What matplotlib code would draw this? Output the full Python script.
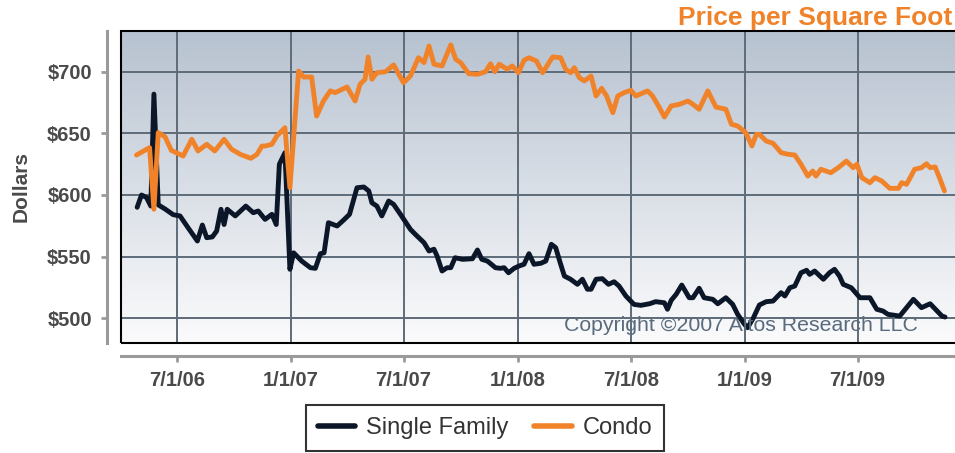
import numpy as np
import pandas as pd
import matplotlib
matplotlib.use('Agg')
import matplotlib.pyplot as plt
from matplotlib.colors import LinearSegmentedColormap
from matplotlib.patches import Rectangle

plt.rcParams['font.family'] = ['Liberation Sans', 'DejaVu Sans']

# Single Family, price per sq ft
sf_dates = ['2006-04-28', '2006-05-05', '2006-05-13', '2006-05-20', '2006-05-25', '2006-06-01',
            '2006-06-12', '2006-06-25', '2006-07-06', '2006-07-19', '2006-08-03', '2006-08-11',
            '2006-08-18', '2006-08-27', '2006-09-03', '2006-09-10', '2006-09-15', '2006-09-20',
            '2006-10-03', '2006-10-20', '2006-11-01', '2006-11-09', '2006-11-20', '2006-12-01',
            '2006-12-08', '2006-12-13', '2006-12-22', '2006-12-30', '2007-01-05', '2007-01-18',
            '2007-02-01', '2007-02-09', '2007-02-17', '2007-02-23', '2007-03-02', '2007-03-16',
            '2007-03-26', '2007-04-05', '2007-04-17', '2007-04-28', '2007-05-06', '2007-05-11',
            '2007-05-19', '2007-05-27', '2007-06-07', '2007-06-15', '2007-06-26', '2007-07-12',
            '2007-07-20', '2007-08-03', '2007-08-11', '2007-08-19', '2007-08-24', '2007-09-01',
            '2007-09-09', '2007-09-15', '2007-09-22', '2007-10-04', '2007-10-20', '2007-10-28',
            '2007-11-04', '2007-11-13', '2007-11-26', '2007-12-04', '2007-12-10', '2007-12-17',
            '2007-12-26', '2008-01-03', '2008-01-11', '2008-01-19', '2008-01-27', '2008-02-07',
            '2008-02-15', '2008-02-24', '2008-03-02', '2008-03-10', '2008-03-16', '2008-03-26',
            '2008-04-06', '2008-04-14', '2008-04-22', '2008-04-28', '2008-05-06', '2008-05-16',
            '2008-05-26', '2008-06-04', '2008-06-12', '2008-06-23', '2008-07-06', '2008-07-17',
            '2008-07-31', '2008-08-10', '2008-08-24', '2008-08-29', '2008-09-04', '2008-09-12',
            '2008-09-21', '2008-10-03', '2008-10-09', '2008-10-19', '2008-10-27', '2008-11-10',
            '2008-11-18', '2008-12-01', '2008-12-12', '2008-12-20', '2008-12-31', '2009-01-05',
            '2009-01-14', '2009-01-24', '2009-02-04', '2009-02-15', '2009-02-28', '2009-03-06',
            '2009-03-14', '2009-03-22', '2009-04-01', '2009-04-10', '2009-04-15', '2009-04-23',
            '2009-05-07', '2009-05-17', '2009-05-25', '2009-06-02', '2009-06-08', '2009-06-21',
            '2009-07-05', '2009-07-21', '2009-08-01', '2009-08-11', '2009-08-19', '2009-09-07',
            '2009-09-29', '2009-10-12', '2009-10-26', '2009-11-14', '2009-11-19']
sf_vals = [590, 600, 598, 591, 682, 592,
           588.6, 584, 583, 573.4, 562.6, 575.6,
           565.3, 565.9, 570.7, 588.4, 576, 588.4,
           583, 591, 585.6, 587, 580.2, 584.3,
           576, 625, 634.4, 539.6, 553, 546.3,
           540.9, 540.4, 552.3, 553, 577.5, 574.8,
           579.4, 584.3, 605.9, 606.5, 603.3, 593.7,
           591, 583, 595.1, 592.4, 584.3, 572.1,
           568, 561.2, 554.5, 555.9, 550.4, 538.2,
           540.9, 540.9, 549, 547.7, 548.2, 555.3,
           547.7, 546.3, 540.9, 540.4, 540.9, 536.8,
           540.4, 542.3, 543.7, 552.3, 543.7, 544.5,
           546.3, 559.9, 557.2, 543.7, 534.1, 531.5,
           527.4, 531.5, 523.4, 523.4, 531.5, 532,
           527.4, 529.5, 526, 517.9, 511.1, 510.3,
           511.6, 513.3, 512.4, 507.1, 514.4, 519.3,
           526.8, 516.5, 516.5, 524.2, 516.5, 515.2,
           511.6, 516.5, 511.1, 503, 494.9, 492.1,
           499.8, 510.6, 513.3, 513.8, 520.6, 517.9,
           524.6, 526, 536.8, 538.8, 535.5, 538.2,
           531.5, 536.8, 539.6, 534.1, 527.4, 524.6,
           516.5, 516.5, 507.1, 505.7, 503, 501.6,
           515.2, 508.4, 511.6, 501.6, 500.8]

# Condo, price per sq ft
condo_dates = ['2006-04-27', '2006-05-18', '2006-05-25', '2006-06-01', '2006-06-12', '2006-06-22',
               '2006-07-11', '2006-07-25', '2006-08-04', '2006-08-18', '2006-08-31', '2006-09-15',
               '2006-09-27', '2006-10-11', '2006-10-28', '2006-11-07', '2006-11-15', '2006-11-20',
               '2006-12-01', '2006-12-09', '2006-12-22', '2006-12-30', '2007-01-13', '2007-01-21',
               '2007-02-03', '2007-02-11', '2007-02-22', '2007-03-05', '2007-03-13', '2007-04-01',
               '2007-04-14', '2007-04-22', '2007-04-30', '2007-05-05', '2007-05-11', '2007-05-19',
               '2007-06-02', '2007-06-15', '2007-07-01', '2007-07-12', '2007-07-25', '2007-08-03',
               '2007-08-11', '2007-08-19', '2007-09-01', '2007-09-15', '2007-09-23', '2007-10-01',
               '2007-10-14', '2007-10-28', '2007-11-10', '2007-11-18', '2007-11-25', '2007-12-02',
               '2007-12-15', '2007-12-23', '2008-01-02', '2008-01-11', '2008-01-19', '2008-01-31',
               '2008-02-10', '2008-02-26', '2008-03-10', '2008-03-18', '2008-03-26', '2008-04-01',
               '2008-04-09', '2008-04-17', '2008-04-28', '2008-05-06', '2008-05-15', '2008-05-23',
               '2008-06-02', '2008-06-10', '2008-06-20', '2008-07-01', '2008-07-09', '2008-07-28',
               '2008-08-05', '2008-08-16', '2008-08-24', '2008-09-04', '2008-09-17', '2008-10-01',
               '2008-10-09', '2008-10-19', '2008-11-02', '2008-11-15', '2008-12-01', '2008-12-10',
               '2008-12-20', '2009-01-02', '2009-01-12', '2009-01-19', '2009-01-24', '2009-02-04',
               '2009-02-15', '2009-02-28', '2009-03-11', '2009-03-22', '2009-04-01', '2009-04-12',
               '2009-04-20', '2009-04-25', '2009-05-03', '2009-05-19', '2009-05-31', '2009-06-13',
               '2009-06-24', '2009-06-30', '2009-07-08', '2009-07-21', '2009-07-29', '2009-08-09',
               '2009-08-22', '2009-09-05', '2009-09-10', '2009-09-18', '2009-10-01', '2009-10-12',
               '2009-10-20', '2009-10-26', '2009-11-03', '2009-11-11', '2009-11-18']
condo_vals = [632.5, 638.5, 588.4, 650.7, 647.2, 636.3,
              631.7, 645.3, 635.8, 641.2, 635.8, 645.3,
              637.2, 633.1, 629.8, 633.1, 639.8, 639.8,
              641.2, 648, 654.7, 605.9, 700.8, 695.9,
              695.9, 664.2, 676.4, 684.6, 683.2, 687.8,
              676.4, 690, 694.1, 712.2, 694.1, 699.4,
              700.2, 705.7, 691.3, 696.7, 711.6, 707.6,
              721.1, 706.3, 704.9, 722, 710.3, 707.6,
              698.6, 698.1, 700.2, 706.7, 700.2, 706.3,
              702.2, 704.9, 699.4, 709.5, 711.6, 708.9,
              699.4, 712.2, 711.6, 702.2, 699.4, 703.5,
              695.4, 692.7, 696.7, 680.5, 686.7, 680.5,
              666.9, 680.5, 683.2, 685.1, 680.5, 684.6,
              680.5, 671, 663.4, 672.4, 673.7, 676.4,
              673.7, 669.7, 684.6, 671.5, 669.7, 657.5,
              656.1, 650.7, 639.8, 649.3, 649.3, 643.9,
              642, 634.4, 633.1, 632.5, 625, 615.4,
              619.5, 615.4, 620.9, 618.1, 622.2, 627.6,
              622.2, 625, 614.1, 610, 614.1, 611.4,
              605.4, 605.4, 610, 608.7, 620.9, 622.2,
              625.4, 622.2, 622.8, 612.8, 603.3]

tick_dates = ['2006-07-01', '2007-01-01', '2007-07-01', '2008-01-01',
              '2008-07-01', '2009-01-01', '2009-07-01']
tick_labels = ['7/1/06', '1/1/07', '7/1/07', '1/1/08', '7/1/08', '1/1/09', '7/1/09']
y_ticks = [500, 550, 600, 650, 700]

navy = '#0b1628'
orange = '#f0832a'
grid_col = '#5e6b79'
label_col = '#4a4a4a'

fig = plt.figure(figsize=(9.55, 4.53), dpi=100)
ax = fig.add_axes([121/955, 1-343/453, 834/955, 312/453])

# gradient background
grad = np.linspace(0, 1, 256).reshape(-1, 1)
cmap = LinearSegmentedColormap.from_list('bg', ['#fbfbfc', '#b7c2d0'])
ax.imshow(grad, cmap=cmap, aspect='auto', extent=[0, 1, 0, 1], origin='lower',
          transform=ax.transAxes, zorder=0)

ax.plot(pd.to_datetime(sf_dates), sf_vals, color=navy, lw=3.5, zorder=3,
        solid_joinstyle='round', solid_capstyle='round', label='Single Family')
ax.plot(pd.to_datetime(condo_dates), condo_vals, color=orange, lw=3.5, zorder=3,
        solid_joinstyle='round', solid_capstyle='round', label='Condo')

ax.set_xlim(pd.Timestamp('2006-04-02'), pd.Timestamp('2009-12-05'))
ax.set_ylim(479.7, 733.3)

ax.set_xticks(pd.to_datetime(tick_dates))
ax.set_xticklabels(tick_labels)
ax.set_yticks(y_ticks)
ax.set_yticklabels(['$%d' % v for v in y_ticks])

ax.grid(True, color=grid_col, lw=1.4, zorder=1)
for gl in ax.get_xgridlines() + ax.get_ygridlines():
    gl.set_zorder(1)

for s in ['top', 'right']:
    ax.spines[s].set_visible(False)
ax.spines['left'].set_position(('outward', 10))
ax.spines['bottom'].set_position(('outward', 9.5))
for s in ['left', 'bottom']:
    ax.spines[s].set_color('#9a9a9a')
    ax.spines[s].set_linewidth(2.2)
ax.tick_params(axis='both', colors='#9a9a9a', width=2, length=4)
ax.tick_params(axis='y', pad=7)
ax.tick_params(axis='x', pad=7)
for t in ax.get_xticklabels() + ax.get_yticklabels():
    t.set_color(label_col)
    t.set_fontweight('bold')
    t.set_fontsize(14.5)

ax.set_ylabel('Dollars', fontsize=15, fontweight='bold', color=label_col, labelpad=12)

# black frame around plot area
ax.add_patch(Rectangle((0, 0), 1.2, 1, transform=ax.transAxes, fill=False,
                       edgecolor='black', lw=1.5, zorder=5, clip_on=False))

ax.text(0.955, 0.04, 'Copyright \u00a92007 Altos Research LLC', transform=ax.transAxes,
        ha='right', va='baseline', fontsize=15.3, color='#5a6b7d', zorder=4)

fig.text(952/955, 1-18/453, 'Price per Square Foot', ha='right', va='center',
         fontsize=19, fontweight='bold', color=orange)

leg = fig.legend(loc='center', bbox_to_anchor=(485/955, 1-428/453), ncol=2,
                 fontsize=17, frameon=True, fancybox=False, handlelength=1.6,
                 handletextpad=0.45, columnspacing=1.1, borderpad=0.5)
leg.get_frame().set_edgecolor('black')
leg.get_frame().set_linewidth(1.5)
for line in leg.get_lines():
    line.set_linewidth(4)
for t in leg.get_texts():
    t.set_color('#333333')

fig.savefig('out.png', dpi=100)
